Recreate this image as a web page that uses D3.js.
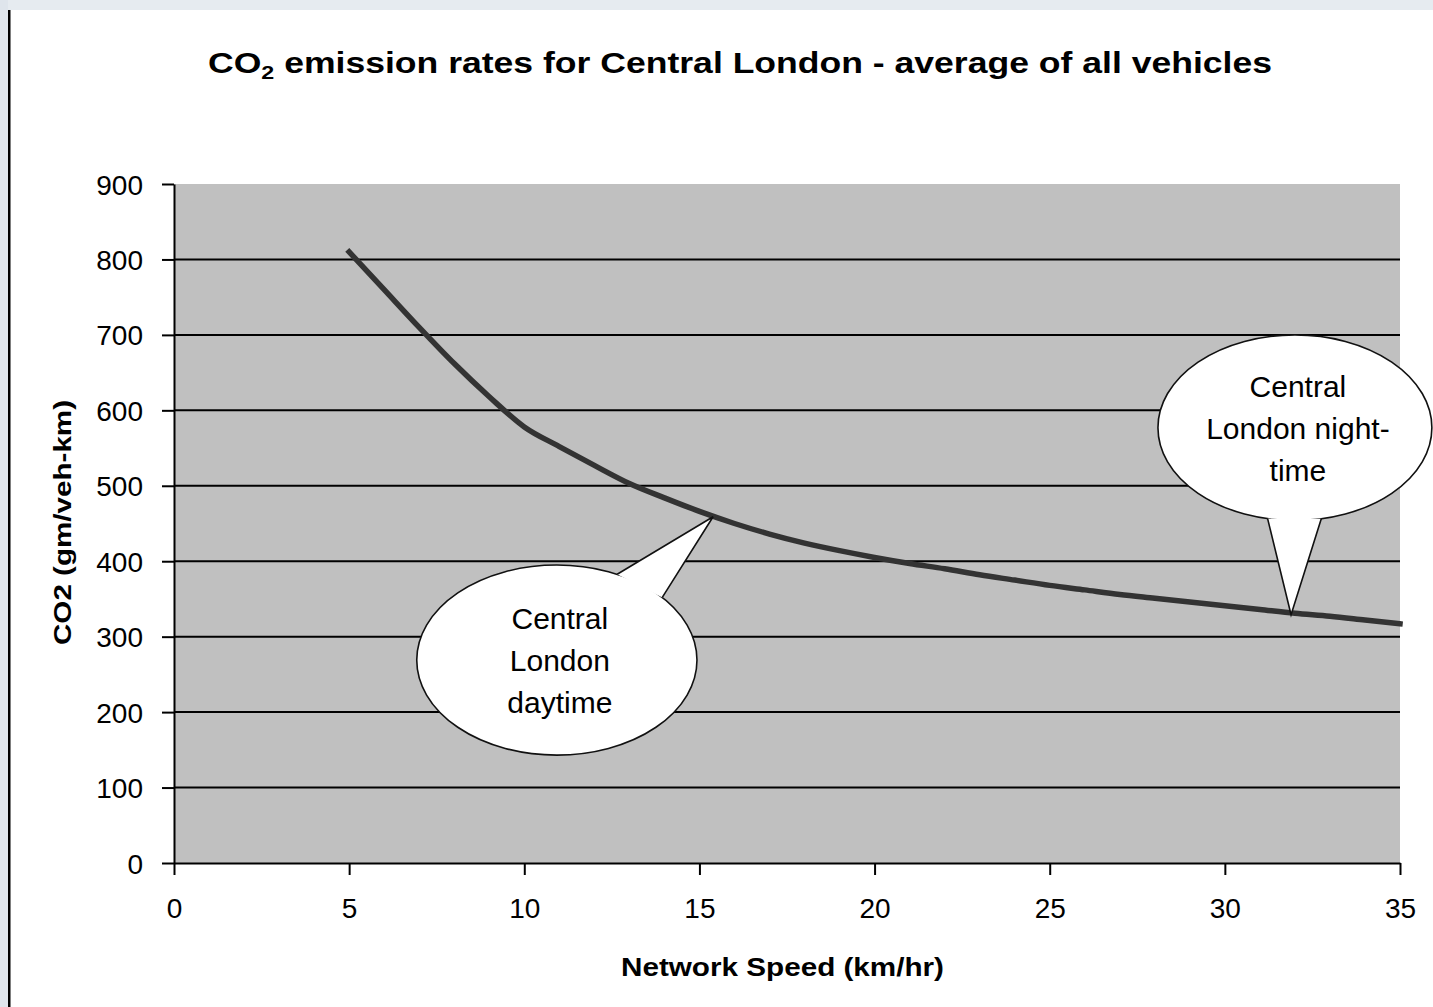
<!DOCTYPE html>
<html>
<head>
<meta charset="utf-8">
<script src="https://cdn.jsdelivr.net/npm/d3@7.9.0/dist/d3.min.js"></script>
<style>
  html, body { margin: 0; padding: 0; background: #ffffff; }
  svg { display: block; }
  text { font-family: "Liberation Sans", Arial, sans-serif; fill: #000; }
</style>
</head>
<body>
<svg id="chart" width="1433" height="1007"></svg>
<script>
// speeds (km/hr) and average CO2 emission rate (gm/veh-km)
const speeds = [5, 6, 7, 8, 9, 10, 11, 12, 13, 14, 15, 16, 17, 18, 19, 20,
  21, 22, 23, 24, 25, 26, 27, 28, 29, 30, 31, 32, 33, 34, 35];
const co2Values = [810, 760, 710, 662, 618, 578, 552, 527, 503, 484, 466, 450,
  436, 424, 414, 405, 397, 390, 382, 375, 368, 362, 356, 351, 346, 341, 336,
  331, 327, 322, 317];

const xTicks = [0, 5, 10, 15, 20, 25, 30, 35];
const yTicks = [0, 100, 200, 300, 400, 500, 600, 700, 800, 900];

const titleText = " emission rates for Central London - average of all vehicles";
const xTitle = "Network Speed (km/hr)";
const yTitle = "CO2 (gm/veh-km)";

// callouts: centre, radii in data units, tail base angles (deg), tip
const calloutLines = [["Central", "London", "daytime"], ["Central", "London night-", "time"]];
const calloutCentres = [[10.93, 269], [32.0, 577]];
const calloutRadii = [[4.0, 126], [3.91, 123]];
const calloutTailAngles = [[-64.5, -41.2], [101.5, 78.9]];
const calloutTips = [[15.39, 459], [31.89, 329]];

const svg = d3.select("#chart");
const margin = { left: 174, right: 33, top: 184, bottom: 144 };
const W = 1433, H = 1007;

// page frame
svg.append("rect").attr("x", 0).attr("y", 0).attr("width", W).attr("height", 10).attr("fill", "#e6ebf0");
svg.append("rect").attr("x", 0).attr("y", 0).attr("width", 8).attr("height", H).attr("fill", "#dfe5ec");
svg.append("rect").attr("x", 8).attr("y", 10).attr("width", 2.5).attr("height", H - 10).attr("fill", "#000");

const x = d3.scaleLinear().domain([0, 35]).range([margin.left, W - margin.right]);
const y = d3.scaleLinear().domain([0, 900]).range([H - margin.bottom, margin.top]);

// plot area
svg.append("rect")
  .attr("x", x(0)).attr("y", y(900))
  .attr("width", x(35) - x(0)).attr("height", y(0) - y(900))
  .attr("fill", "#c0c0c0");

// gridlines
svg.append("g")
  .selectAll("line")
  .data(yTicks.filter((d) => d > 0 && d < 900))
  .join("line")
  .attr("x1", x(0)).attr("x2", x(35))
  .attr("y1", (d) => y(d)).attr("y2", (d) => y(d))
  .attr("stroke", "#000").attr("stroke-width", 2);

// axes
const yAxis = svg.append("g")
  .attr("transform", `translate(${x(0)},0)`)
  .call(d3.axisLeft(y).tickValues(yTicks).tickSize(12).tickPadding(19).tickSizeOuter(0));
const xAxis = svg.append("g")
  .attr("transform", `translate(0,${y(0)})`)
  .call(d3.axisBottom(x).tickValues(xTicks).tickSize(12).tickPadding(23).tickSizeOuter(0));

[xAxis, yAxis].forEach((g) => {
  g.select(".domain").attr("stroke", "#000").attr("stroke-width", 2);
  g.selectAll(".tick line").attr("stroke", "#000").attr("stroke-width", 2);
  g.selectAll(".tick text")
    .attr("font-family", "Liberation Sans, Arial, sans-serif")
    .attr("font-size", 28).attr("fill", "#000");
});
yAxis.selectAll(".tick text").attr("dy", "0.36em");
xAxis.selectAll(".tick text").attr("dy", "0.72em");

// data line
const line = d3.line()
  .x((d, i) => x(speeds[i]))
  .y((d) => y(d))
  .curve(d3.curveMonotoneX);

svg.append("path")
  .datum(co2Values)
  .attr("d", line)
  .attr("fill", "none")
  .attr("stroke", "#333333")
  .attr("stroke-width", 5.5)
  .attr("stroke-linecap", "square");

// callouts
calloutLines.forEach((lines, k) => {
  const cx = x(calloutCentres[k][0]);
  const cy = y(calloutCentres[k][1]);
  const rx = x(calloutRadii[k][0]) - x(0);
  const ry = y(0) - y(calloutRadii[k][1]);
  const [a1, a2] = calloutTailAngles[k].map((a) => (a * Math.PI) / 180);
  const b1 = [cx + rx * Math.cos(a1), cy + ry * Math.sin(a1)];
  const b2 = [cx + rx * Math.cos(a2), cy + ry * Math.sin(a2)];
  const tip = [x(calloutTips[k][0]), y(calloutTips[k][1])];

  const g = svg.append("g");
  g.append("ellipse")
    .attr("cx", cx).attr("cy", cy).attr("rx", rx).attr("ry", ry)
    .attr("fill", "#fff").attr("stroke", "#111").attr("stroke-width", 1.6);
  g.append("path")
    .attr("d", `M${b1[0]},${b1[1]}L${tip[0]},${tip[1]}L${b2[0]},${b2[1]}`)
    .attr("fill", "#fff").attr("stroke", "#111").attr("stroke-width", 1.6)
    .attr("stroke-linejoin", "miter");

  g.append("text")
    .attr("text-anchor", "middle")
    .attr("font-size", 30)
    .selectAll("tspan")
    .data(lines)
    .join("tspan")
    .attr("x", cx + 3)
    .attr("y", (d, i) => cy - 31 + i * 42)
    .text((d) => d);
});

// title
const title = svg.append("text")
  .attr("x", 208).attr("y", 73)
  .attr("font-size", 29).attr("font-weight", "bold")
  .attr("textLength", 1064)
  .attr("lengthAdjust", "spacingAndGlyphs");
title.append("tspan").text("CO");
title.append("tspan").attr("font-size", 19).attr("dy", 6).text("2");
title.append("tspan").attr("dy", -6).text(titleText);

// axis titles
svg.append("text")
  .attr("x", 621).attr("y", 976)
  .attr("font-size", 25).attr("font-weight", "bold")
  .attr("textLength", 323)
  .attr("lengthAdjust", "spacingAndGlyphs")
  .text(xTitle);

svg.append("text")
  .attr("transform", `translate(71,645) rotate(-90)`)
  .attr("font-size", 24).attr("font-weight", "bold")
  .attr("textLength", 245)
  .attr("lengthAdjust", "spacingAndGlyphs")
  .text(yTitle);
</script>
</body>
</html>
